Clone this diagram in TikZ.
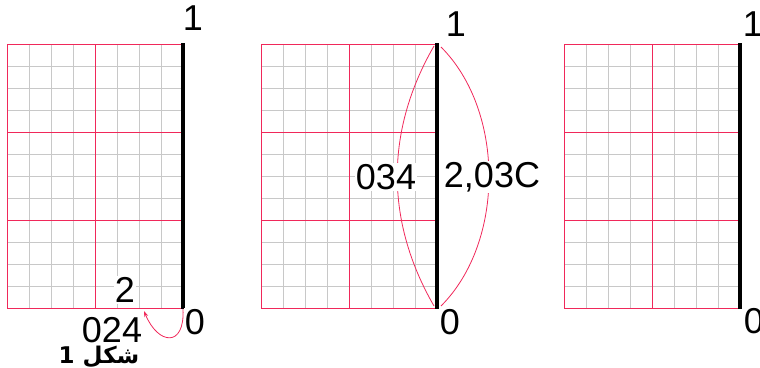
\documentclass[tikz,border=0pt]{standalone}
\usepackage{fontspec}
\setmainfont{Liberation Sans}
\newfontfamily\arabicfont[Script=Arabic]{DejaVu Sans}
\TeXXeTstate=1
\usetikzlibrary{arrows.meta}
\definecolor{gridred}{RGB}{240,40,90}
\definecolor{gridgray}{RGB}{200,200,200}

\begin{document}
\begin{tikzpicture}[x=1pt, y=-1pt,
    minor/.style={gridgray, line width=1pt},
    major/.style={gridred, line width=1pt},
    edge/.style={line width=4.5pt},
    curve/.style={gridred, line width=0.8pt},
    lbl/.style={font=\fontsize{36}{36}\selectfont, inner sep=1pt, fill=white}]
    \useasboundingbox (0,0) rectangle (760,367);

    % three grid panels
    \foreach \xo/\p in {7/a, 261/b, 564/c} {
        \begin{scope}[shift={(\xo,44)}]
            \foreach \i in {1,2,3,5,6,7} \draw[minor] (\i*22,0) -- (\i*22,264);
            \foreach \j in {1,2,3,5,6,7,9,10,11} \draw[minor] (0,\j*22) -- (176,\j*22);
            \foreach \i in {0,4} \draw[major] (\i*22,0) -- (\i*22,264);
            \foreach \j in {0,4,8,12} \draw[major] (0,\j*22) -- (176,\j*22);
            \coordinate (\p-top) at (176,-1);
            \coordinate (\p-bot) at (176,265);
            \draw[edge] (\p-top) -- (\p-bot);
        \end{scope}
    }

    % panel 1
    \node[lbl] (a-one) at (193,18) {1};
    \node[lbl] (a-zero) at (195,322) {0};
    \node[lbl] (a-two) at (125,290) {2};
    \node[lbl] (a-val) at (112,330) {024};
    \coordinate (a-tip) at (144,311);
    \draw[curve, -{Stealth[length=6pt, width=4pt]}] (a-bot) .. controls (185,348) and (158,345) .. (a-tip);
    \node (caption) at (99,357) {\arabicfont\bfseries\fontsize{23}{23}\selectfont\beginR شکل 1\endR};

    % panel 2
    \coordinate (b-lt) at (434,46);
    \coordinate (b-lb) at (434,306);
    \coordinate (b-rt) at (441,47);
    \coordinate (b-rb) at (441,306);
    \draw[curve] (b-lt) .. controls (385,131) and (385,221) .. (b-lb);
    \draw[curve] (b-rt) .. controls (505,111) and (505,242) .. (b-rb);
    \node[lbl] (b-left) at (386,177) {034};
    \node[lbl] (b-right) at (492,177) {2,03C};
    \node[lbl] (b-one) at (456,24) {1};
    \node[lbl] (b-zero) at (450,322) {0};

    % panel 3
    \node[lbl] (c-one) at (753,24) {1};
    \node[lbl] (c-zero) at (754,321) {0};
\end{tikzpicture}
\end{document}
